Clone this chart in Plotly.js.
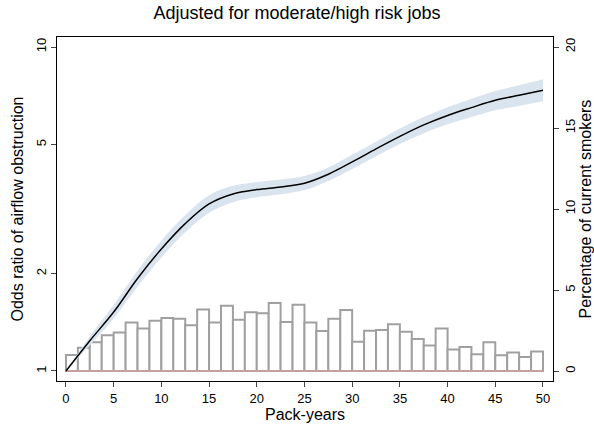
<!DOCTYPE html>
<html>
<head>
<script src="https://cdn.plot.ly/plotly-3.0.1.min.js"></script>
<style>body{margin:0}</style>
</head>
<body>
<div id="chart" style="width:594px;height:426px;"></div>
<script>
// histogram of current smokers, 40 bins of 1.25 pack-years
var binMids = [];
for (var i = 0; i < 40; i++) binMids.push(0.625 + i * 1.25);
var pctSmokers = [0.99, 1.44, 1.77, 2.2, 2.37, 3.0, 2.63, 3.1, 3.27, 3.23,
    2.82, 3.8, 3.0, 4.03, 3.17, 3.62, 3.56, 4.2, 3.02, 4.09,
    3.0, 2.47, 3.23, 3.77, 1.81, 2.49, 2.53, 2.88, 2.43, 1.98,
    1.58, 2.63, 1.32, 1.48, 1.03, 1.77, 0.97, 1.15, 0.86, 1.21];

var packYears = [0, 2.5, 5, 7.5, 10, 12.5, 15, 17.5, 20, 22.5, 25, 27.5, 30, 32.5, 35, 37.5, 40, 42.5, 45, 47.5, 50];
var oddsRatio = [1.0, 1.24, 1.52, 1.93, 2.38, 2.85, 3.28, 3.52, 3.63, 3.7, 3.8, 4.05, 4.42, 4.85, 5.3, 5.75, 6.15, 6.5, 6.85, 7.1, 7.35];
var oddsLo = [1.0, 1.2, 1.45, 1.82, 2.24, 2.68, 3.08, 3.32, 3.44, 3.51, 3.62, 3.86, 4.2, 4.6, 5.02, 5.42, 5.78, 6.08, 6.38, 6.58, 6.8];
var oddsHi = [1.0, 1.28, 1.6, 2.04, 2.53, 3.03, 3.49, 3.73, 3.83, 3.9, 4.0, 4.25, 4.65, 5.1, 5.6, 6.08, 6.52, 6.93, 7.32, 7.62, 7.95];

var font = {family: 'Liberation Sans, Arial, sans-serif', size: 13, color: '#000'};

var bars = {
    x: binMids, y: pctSmokers, type: 'bar', yaxis: 'y',
    width: 1.25,
    marker: {color: '#ffffff', line: {color: '#a0a0a0', width: 2}},
    hoverinfo: 'skip'
};
var base = {
    x: [0, 50], y: [0, 0], yaxis: 'y', mode: 'lines',
    line: {color: '#e8a0a0', width: 1}
};
var lower = {
    x: packYears, y: oddsLo, yaxis: 'y2', mode: 'lines',
    line: {width: 0, shape: 'spline'}
};
var upper = {
    x: packYears, y: oddsHi, yaxis: 'y2', mode: 'lines', fill: 'tonexty',
    fillcolor: '#dae4ee', line: {width: 0, shape: 'spline'}
};
var curve = {
    x: packYears, y: oddsRatio, yaxis: 'y2', mode: 'lines',
    line: {color: '#000', width: 1.5, shape: 'spline'}
};

var layout = {
    width: 594, height: 426,
    margin: {l: 57, r: 41, t: 37, b: 45},
    showlegend: false,
    paper_bgcolor: '#fff', plot_bgcolor: '#fff',
    font: font,
    title: {text: 'Adjusted for moderate/high risk jobs', font: {size: 18}, x: 0.5, y: 0.985, yanchor: 'top'},
    xaxis: {
        range: [-0.94, 51.05], tickvals: [0, 5, 10, 15, 20, 25, 30, 35, 40, 45, 50],
        ticks: 'outside', ticklen: 5, showgrid: false, zeroline: false,
        showline: true, linecolor: '#000', mirror: true,
        title: {text: 'Pack-years', standoff: 2}
    },
    yaxis: {
        side: 'right', range: [-0.617, 20.62], tickvals: [0, 5, 10, 15, 20],
        ticks: 'outside', ticklen: 5, tickangle: -90, showgrid: false, zeroline: false,
        showline: true, linecolor: '#000',
        title: {text: 'Percentage of current smokers', standoff: 6}
    },
    yaxis2: {
        type: 'log', overlaying: 'y', side: 'left', range: [-0.031, 1.031],
        tickvals: [1, 2, 5, 10], ticktext: ['1', '2', '5', '10'],
        ticks: 'outside', ticklen: 5, tickangle: -90, showgrid: false, zeroline: false,
        showline: true, linecolor: '#000',
        title: {text: 'Odds ratio of airflow obstruction', standoff: 6}
    }
};

Plotly.newPlot('chart', [bars, base, lower, upper, curve], layout, {staticPlot: true});
</script>
</body>
</html>
